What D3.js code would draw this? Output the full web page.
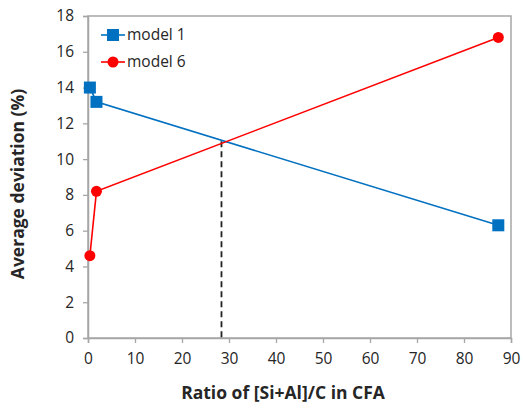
<!DOCTYPE html>
<html>
<head>
<meta charset="utf-8">
<script src="https://cdn.jsdelivr.net/npm/d3@7"></script>
<style>
	body { margin: 0; background: #fff; }
	svg text { font-family: "Open Sans", "Liberation Sans", sans-serif; fill: #262626; }
</style>
</head>
<body>
<div id="chart"></div>
<script>
// valeurs
const ratio = [0.4, 1.8, 87.3];
const model1 = [14.0, 13.2, 6.3];
const model6 = [4.6, 8.2, 16.8];
const crossX = 28.4;
const crossY = 11.0;
const xTicks = [0, 10, 20, 30, 40, 50, 60, 70, 80, 90];
const yTicks = [0, 2, 4, 6, 8, 10, 12, 14, 16, 18];

const width = 523, height = 409;
const margin = { top: 16, right: 12, bottom: 71, left: 88 };
const inner = {
	width: width - margin.left - margin.right,
	height: height - margin.top - margin.bottom
};

const x = d3.scaleLinear().domain([0, 90]).range([0, inner.width]);
const y = d3.scaleLinear().domain([0, 18]).range([inner.height, 0]);

const svg_outer = d3.select("#chart")
	.append("svg")
	.attr("width", width)
	.attr("height", height);

const svg = svg_outer.append("g")
	.attr("transform", "translate(" + margin.left + "," + margin.top + ")");

// cadre
svg.append("rect")
	.attr("width", inner.width)
	.attr("height", inner.height)
	.attr("fill", "none")
	.attr("stroke", "#a6a6a6")
	.attr("stroke-width", 1.5);

const styleAxis = g => {
	g.select(".domain").attr("stroke", "#a6a6a6").attr("stroke-width", 1.5);
	g.selectAll(".tick line").attr("stroke", "#a6a6a6").attr("stroke-width", 1.3);
	g.selectAll(".tick text").attr("font-size", 15.5).attr("fill", "#333");
};

svg.append("g")
	.attr("transform", "translate(0," + inner.height + ")")
	.call(d3.axisBottom(x).tickValues(xTicks).tickSize(5).tickPadding(10))
	.call(styleAxis);

svg.append("g")
	.call(d3.axisLeft(y).tickValues(yTicks).tickSize(5).tickPadding(9))
	.call(styleAxis);

// ligne pointillée
svg.append("line")
	.attr("x1", x(crossX)).attr("x2", x(crossX))
	.attr("y1", y(crossY)).attr("y2", y(0))
	.attr("stroke", "#222")
	.attr("stroke-width", 1.8)
	.attr("stroke-dasharray", "6,4");

const line = d3.line()
	.x(d => x(d[0]))
	.y(d => y(d[1]));

const blue = "#0070c0", red = "#ff0000";
const d1 = ratio.map((r, i) => [r, model1[i]]);
const d6 = ratio.map((r, i) => [r, model6[i]]);

svg.append("path").datum(d1)
	.attr("d", line).attr("fill", "none").attr("stroke", blue).attr("stroke-width", 1.6);
svg.append("path").datum(d6)
	.attr("d", line).attr("fill", "none").attr("stroke", red).attr("stroke-width", 1.6);

const sq = 12;
svg.append("g").selectAll("rect")
	.data(d1)
	.join("rect")
	.attr("x", d => x(d[0]) - sq / 2)
	.attr("y", d => y(d[1]) - sq / 2)
	.attr("width", sq).attr("height", sq)
	.attr("fill", blue);

svg.append("g").selectAll("circle")
	.data(d6)
	.join("circle")
	.attr("cx", d => x(d[0]))
	.attr("cy", d => y(d[1]))
	.attr("r", 5.5)
	.attr("fill", red);

// légende
const legend = svg.append("g").attr("transform", "translate(13,19)");
const items = [
	{ label: "model 1", color: blue, shape: "square" },
	{ label: "model 6", color: red, shape: "circle" }
];
items.forEach((it, i) => {
	const g = legend.append("g").attr("transform", "translate(0," + (i * 27) + ")");
	g.append("line").attr("x1", 0).attr("x2", 24).attr("stroke", it.color).attr("stroke-width", 1.6);
	if (it.shape === "square") {
		g.append("rect").attr("x", 6).attr("y", -6).attr("width", 12).attr("height", 12).attr("fill", it.color);
	} else {
		g.append("circle").attr("cx", 12).attr("r", 5.5).attr("fill", it.color);
	}
	g.append("text").attr("x", 26).attr("dy", "0.35em").attr("font-size", 15.5).text(it.label);
});

// titres des axes
svg.append("text")
	.attr("x", 195)
	.attr("y", inner.height + 61)
	.attr("text-anchor", "middle")
	.attr("font-size", 17.5)
	.attr("font-weight", "bold")
	.text("Ratio of [Si+Al]/C in CFA");

svg.append("text")
	.attr("transform", "translate(" + (-64) + "," + 168 + ") rotate(-90)")
	.attr("text-anchor", "middle")
	.attr("font-size", 17.5)
	.attr("font-weight", "bold")
	.text("Average deviation (%)");
</script>
</body>
</html>
